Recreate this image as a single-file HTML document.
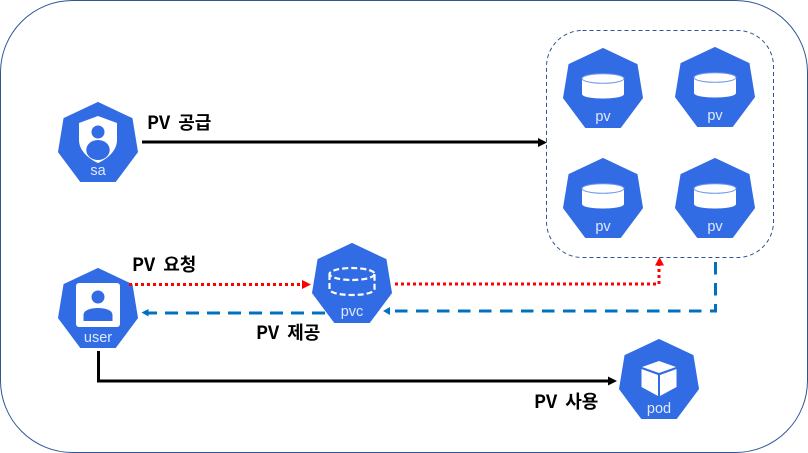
<!DOCTYPE html>
<html>
<head>
<meta charset="utf-8">
<style>
html,body{margin:0;padding:0;background:#fff;width:808px;height:453px;overflow:hidden}
svg{display:block}
.lbl{font-family:"Noto Sans CJK KR","Liberation Sans",sans-serif;font-weight:700;font-size:18px;word-spacing:4px;fill:#000}
.ico{font-family:"Liberation Sans",sans-serif;font-size:14.500px;fill:#fff;text-anchor:middle;opacity:.85}
</style>
</head>
<body>
<svg width="808" height="453" viewBox="0 0 808 453" xmlns="http://www.w3.org/2000/svg">
<defs>
<polygon id="hep" points="0,0.500 34,16.500 39.500,50 17.500,79.500 -17.500,79.500 -39.500,50 -34,16.500" fill="#326ce5" stroke="#326ce5" stroke-width="1" stroke-linejoin="round"/>
<g id="disk">
<path d="M-21,31 V46 C-21,52 21,52 21,46 V31 Z" fill="#fff"/>
<ellipse cx="0" cy="30.500" rx="21" ry="4.800" fill="#fff" stroke="#6f97ec" stroke-width="1"/>
</g>
</defs>

<rect x="0.5" y="0.5" width="807" height="452" rx="72" ry="72" fill="#fff" stroke="#2f5597" stroke-width="1"/>
<rect x="546.5" y="30.5" width="227" height="227" rx="36" ry="36" fill="none" stroke="#2f5597" stroke-width="1" stroke-dasharray="4 3"/>

<!-- sa -->
<g transform="translate(98,102)">
<use href="#hep"/>
<path d="M0,14 L19,21 V38 C19,49 9,57 0,61 C-9,57 -19,49 -19,38 V21 Z" fill="#fff"/>
<circle cx="0" cy="30" r="6.500" fill="#326ce5"/>
<ellipse cx="0" cy="48" rx="11.700" ry="10" fill="#326ce5"/>
<text class="ico" x="0" y="73">sa</text>
</g>

<!-- pv -->
<g transform="translate(603,48)"><use href="#hep"/><use href="#disk"/><text class="ico" x="0" y="73">pv</text></g>
<g transform="translate(715,47)"><use href="#hep"/><use href="#disk"/><text class="ico" x="0" y="73">pv</text></g>
<g transform="translate(603,158)"><use href="#hep"/><use href="#disk"/><text class="ico" x="0" y="73">pv</text></g>
<g transform="translate(715,158)"><use href="#hep"/><use href="#disk"/><text class="ico" x="0" y="73">pv</text></g>

<!-- user -->
<g transform="translate(98,268)">
<use href="#hep"/>
<rect x="-22" y="15" width="44" height="44" rx="3" fill="#fff"/>
<circle cx="0" cy="29" r="6.500" fill="#326ce5"/>
<path d="M-14.500,53 V47 C-14.500,42 -7,40 0,40 C7,40 14.500,42 14.500,47 V53 Z" fill="#326ce5"/>
<text class="ico" x="0" y="74">user</text>
</g>

<!-- pvc -->
<g transform="translate(352,243)">
<use href="#hep"/>
<g fill="none" stroke="#fff" stroke-width="2.200" stroke-dasharray="6 3">
<ellipse cx="0" cy="31" rx="22.500" ry="6"/>
<path d="M-22.500,31 V46 C-22.500,54 22.500,54 22.500,46 V31"/>
</g>
<text class="ico" x="0" y="73">pvc</text>
</g>

<!-- pod -->
<g transform="translate(659,339)">
<use href="#hep"/>
<path d="M0,22 L17,28 L0,34 L-17,28 Z" fill="#fff"/>
<path d="M-17.500,30 L-1,36 V57 L-17.500,48 Z" fill="#fff"/>
<path d="M17.500,30 L1,36 V57 L17.500,48 Z" fill="#fff"/>
<text class="ico" x="0" y="74">pod</text>
</g>

<!-- black connectors -->
<path d="M142,142 H539" stroke="#000" stroke-width="3" fill="none"/>
<path d="M538,138 L547,142.500 L538,147 Z" fill="#000"/>
<path d="M98.500,351 V381 H609" stroke="#000" stroke-width="3" fill="none"/>
<path d="M608,376.500 L617,381 L608,385.500 Z" fill="#000"/>

<!-- red dotted -->
<path d="M129,284.500 H304" stroke="#f00" stroke-width="3" stroke-dasharray="3 3" fill="none"/>
<path d="M302,280 L311,284.500 L302,289 Z" fill="#f00"/>
<path d="M395,284 H659 V265" stroke="#f00" stroke-width="3" stroke-dasharray="3 3" fill="none"/>
<path d="M655,265.500 L659.500,257 L664,265.500 Z" fill="#f00"/>

<!-- blue dashed -->
<path d="M715.500,262 V311 H389" stroke="#0070c0" stroke-width="3" stroke-dasharray="12.500 8.500" fill="none"/>
<path d="M390,307 L383,311 L390,315 Z" fill="#0070c0"/>
<path d="M325,313 H147" stroke="#0070c0" stroke-width="3" stroke-dasharray="13 8" fill="none"/>
<path d="M148.500,309 L141.500,312.500 L148.500,316.500 Z" fill="#0070c0"/>

<!-- labels -->
<text class="lbl" x="147" y="129">PV 공급</text>
<text class="lbl" x="132" y="271">PV 요청</text>
<text class="lbl" x="256" y="339">PV 제공</text>
<text class="lbl" x="534" y="408">PV 사용</text>
</svg>
</body>
</html>
